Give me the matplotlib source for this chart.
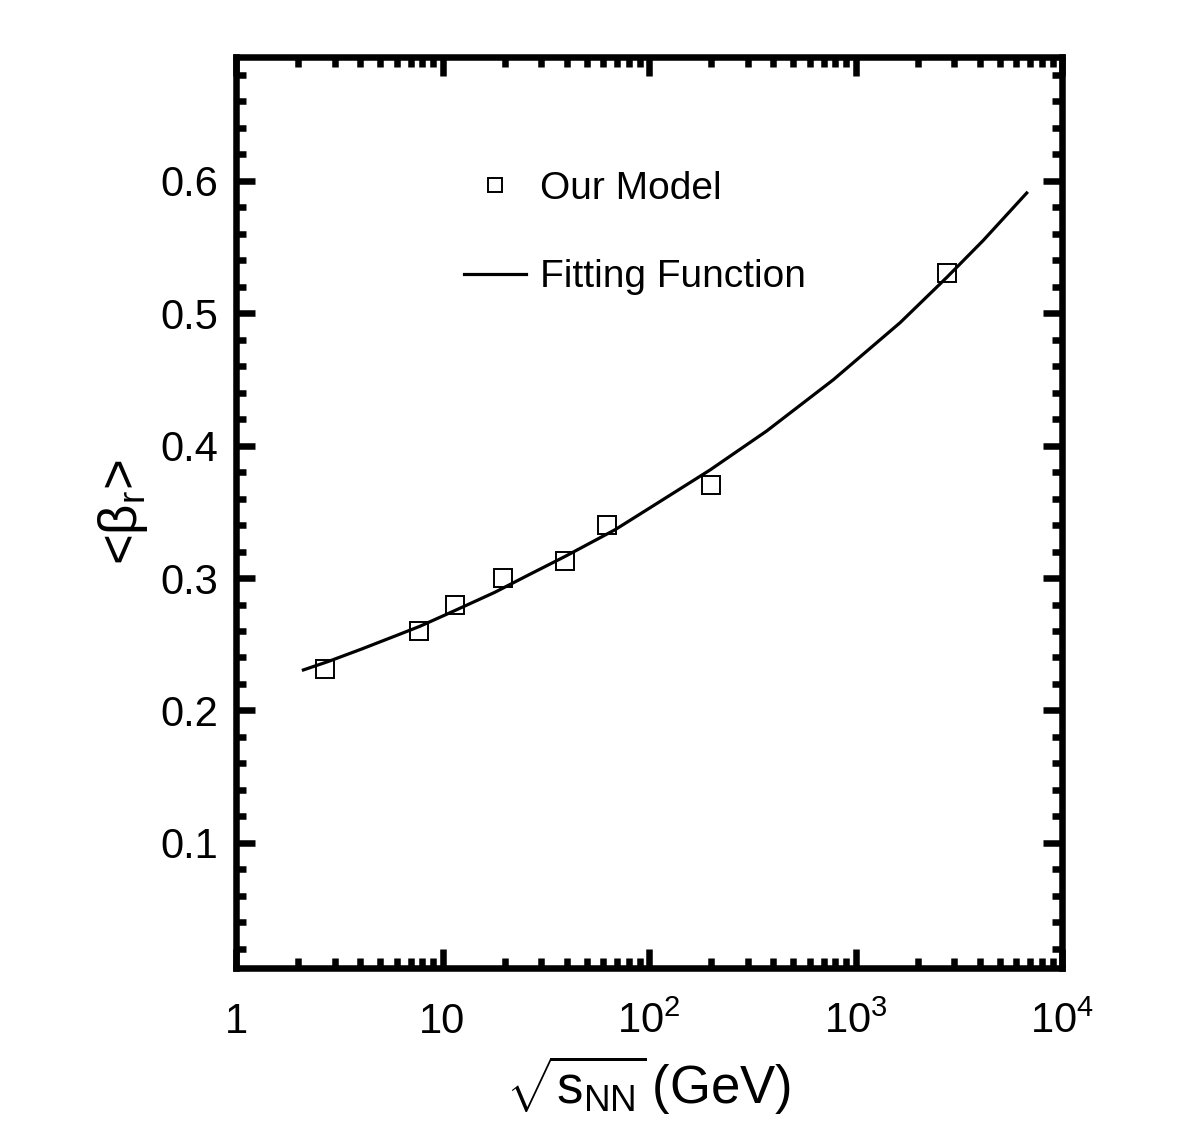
import matplotlib
matplotlib.use('Agg')
from matplotlib import pyplot as plt
from matplotlib.ticker import FixedLocator, LogLocator, MultipleLocator, NullFormatter

plt.rcParams['font.family'] = ['Liberation Sans', 'DejaVu Sans']
plt.rcParams['mathtext.fontset'] = 'custom'
plt.rcParams['mathtext.rm'] = 'Liberation Sans'
plt.rcParams['mathtext.it'] = 'Liberation Sans'
plt.rcParams['mathtext.bf'] = 'Liberation Sans:bold'

# model points
energy = [2.7, 7.7, 11.5, 19.6, 39.0, 62.4, 200.0, 2760.0]
beta_r = [0.231, 0.260, 0.280, 0.300, 0.313, 0.340, 0.370, 0.530]

# fitting function, sampled along the drawn curve
fit_e = [2.12, 2.80, 4.06, 5.89, 7.78, 11.5, 17.96, 26.0, 39.2, 68.5, 101.0,
         197.0, 371.0, 780.0, 1643.0, 2765.0, 4157.0, 6748.0]
fit_b = [0.2306, 0.2370, 0.2464, 0.2562, 0.2636, 0.2755, 0.2893, 0.3022, 0.3163, 0.3365, 0.3530,
         0.3815, 0.4110, 0.4497, 0.4928, 0.5270, 0.5550, 0.5908]

xtick_vals = [1, 10, 100, 1000, 10000]
xtick_labels = ['1', '10', r'10$^{2}$', r'10$^{3}$', r'10$^{4}$']
ytick_vals = [0.1, 0.2, 0.3, 0.4, 0.5, 0.6]

fig = plt.figure(figsize=(11.82, 11.42), dpi=100)
ax = fig.add_axes([236/1182, 1 - 968/1142, (1062 - 236)/1182, (968 - 57)/1142])

ax.plot(energy, beta_r, 's', mfc='none', mec='black', mew=1.4, ms=12.5, label='Our Model')
ax.plot(fit_e, fit_b, '-', color='black', lw=2.3, label='Fitting Function')

ax.set_xscale('log')
ax.set_xlim(1, 1e4)
ax.set_ylim(0.0055, 0.6935)

ax.xaxis.set_major_locator(FixedLocator(xtick_vals))
ax.set_xticklabels(xtick_labels)
ax.xaxis.set_minor_locator(LogLocator(base=10, subs=range(2, 10)))
ax.xaxis.set_minor_formatter(NullFormatter())
ax.yaxis.set_major_locator(FixedLocator(ytick_vals))
ax.set_yticklabels(['%.1f' % v for v in ytick_vals])
ax.yaxis.set_minor_locator(MultipleLocator(0.02))

for s in ax.spines.values():
    s.set_linewidth(4.7)
ax.tick_params(which='both', direction='in', top=True, right=True, width=4.7)
ax.tick_params(which='major', length=13.5)
ax.tick_params(which='minor', length=7)
ax.tick_params(axis='y', labelsize=30, pad=13)
ax.tick_params(axis='x', labelsize=30, pad=47)
for lab in ax.get_xticklabels():
    lab.set_va('baseline')

ax.set_xlabel(r'$\sqrt{\mathregular{s_{NN}}}\!\mathregular{\ (GeV)}$', fontsize=38, labelpad=8)
ax.set_ylabel(r'<$\mathregular{\beta_{r}}$>', fontsize=38, labelpad=7)

ax.legend(loc='upper left', bbox_to_anchor=(464/1182, 1 - 171/1142), bbox_transform=fig.transFigure,
          frameon=False, fontsize=28, borderpad=0, borderaxespad=0, labelspacing=1.35,
          handlelength=1.6, handletextpad=0.36, markerscale=0.8)

fig.savefig('out.png', dpi=100)
